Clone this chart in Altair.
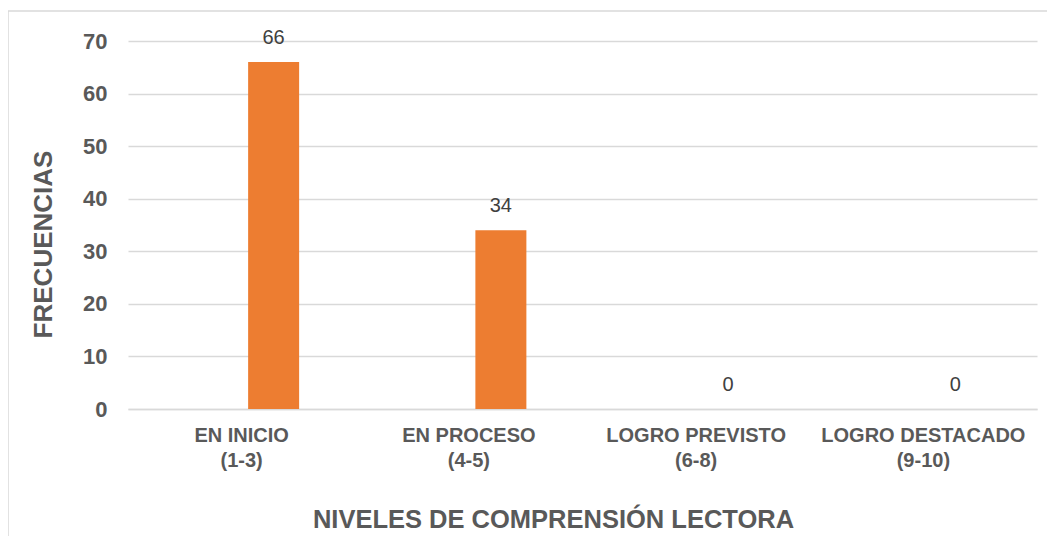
import altair as alt
import pandas as pd

categories = ["EN INICIO\n(1-3)", "EN PROCESO\n(4-5)", "LOGRO PREVISTO\n(6-8)", "LOGRO DESTACADO\n(9-10)"]
frecuencias = [66, 34, 0, 0]
y_ticks = [0, 10, 20, 30, 40, 50, 60, 70]

df = pd.DataFrame({"nivel": categories, "frec": frecuencias})

FONT = "Liberation Sans"
GRAY = "#595959"

x = alt.X("nivel:N", sort=categories,
          scale=alt.Scale(paddingInner=0, paddingOuter=0),
          axis=alt.Axis(title="NIVELES DE COMPRENSIÓN LECTORA", labelAngle=0,
                        labelExpr="split(datum.label, '\\n')", labelLimit=0,
                        labelFont=FONT, labelFontSize=20, labelFontWeight="bold",
                        labelColor=GRAY, labelLineHeight=25, labelPadding=16,
                        ticks=False, domainColor="#d9d9d9", domainWidth=1.5,
                        titleFont=FONT, titleFontSize=25.5, titleFontWeight="bold",
                        titleColor=GRAY, titleX=425, titleY=118, titleLimit=0,
                        titleBaseline="alphabetic", titleAnchor="middle"))
y = alt.Y("frec:Q", scale=alt.Scale(domain=[0, 70], nice=False),
          axis=alt.Axis(title="FRECUENCIAS", values=y_ticks,
                        labelFont=FONT, labelFontSize=22, labelFontWeight="bold",
                        labelColor=GRAY, labelPadding=21, ticks=False, domain=False,
                        gridColor="#d9d9d9", gridWidth=1.5,
                        titleFont=FONT, titleFontSize=26, titleFontWeight="bold",
                        titleColor=GRAY, titleX=-77, titleY=203, titleLimit=0,
                        titleBaseline="alphabetic", titleAnchor="middle", titleAngle=-90))

bars = alt.Chart(df).mark_bar(color="#ED7D31", width=51, xOffset=32).encode(x=x, y=y)
labels = alt.Chart(df).mark_text(font=FONT, fontSize=20, color="#404040",
                                 xOffset=32, dy=-18, baseline="alphabetic").encode(
    x=x, y=y, text="frec:Q")

border = alt.Chart(pd.DataFrame({"a": [0]})).mark_rect(
    fillOpacity=0, stroke="#d9d9d9", strokeWidth=1.5).encode(
    x=alt.value(-120), x2=alt.value(2000), y=alt.value(-30), y2=alt.value(2000))

chart = alt.layer(border, bars, labels).properties(
    width=909, height=368,
    autosize=alt.AutoSizeParams(type="none"),
    padding={"left": 120, "top": 33, "right": 10, "bottom": 127},
).configure_view(stroke=None)

chart.save("out.html", embed_options={"renderer": "svg", "actions": False})
